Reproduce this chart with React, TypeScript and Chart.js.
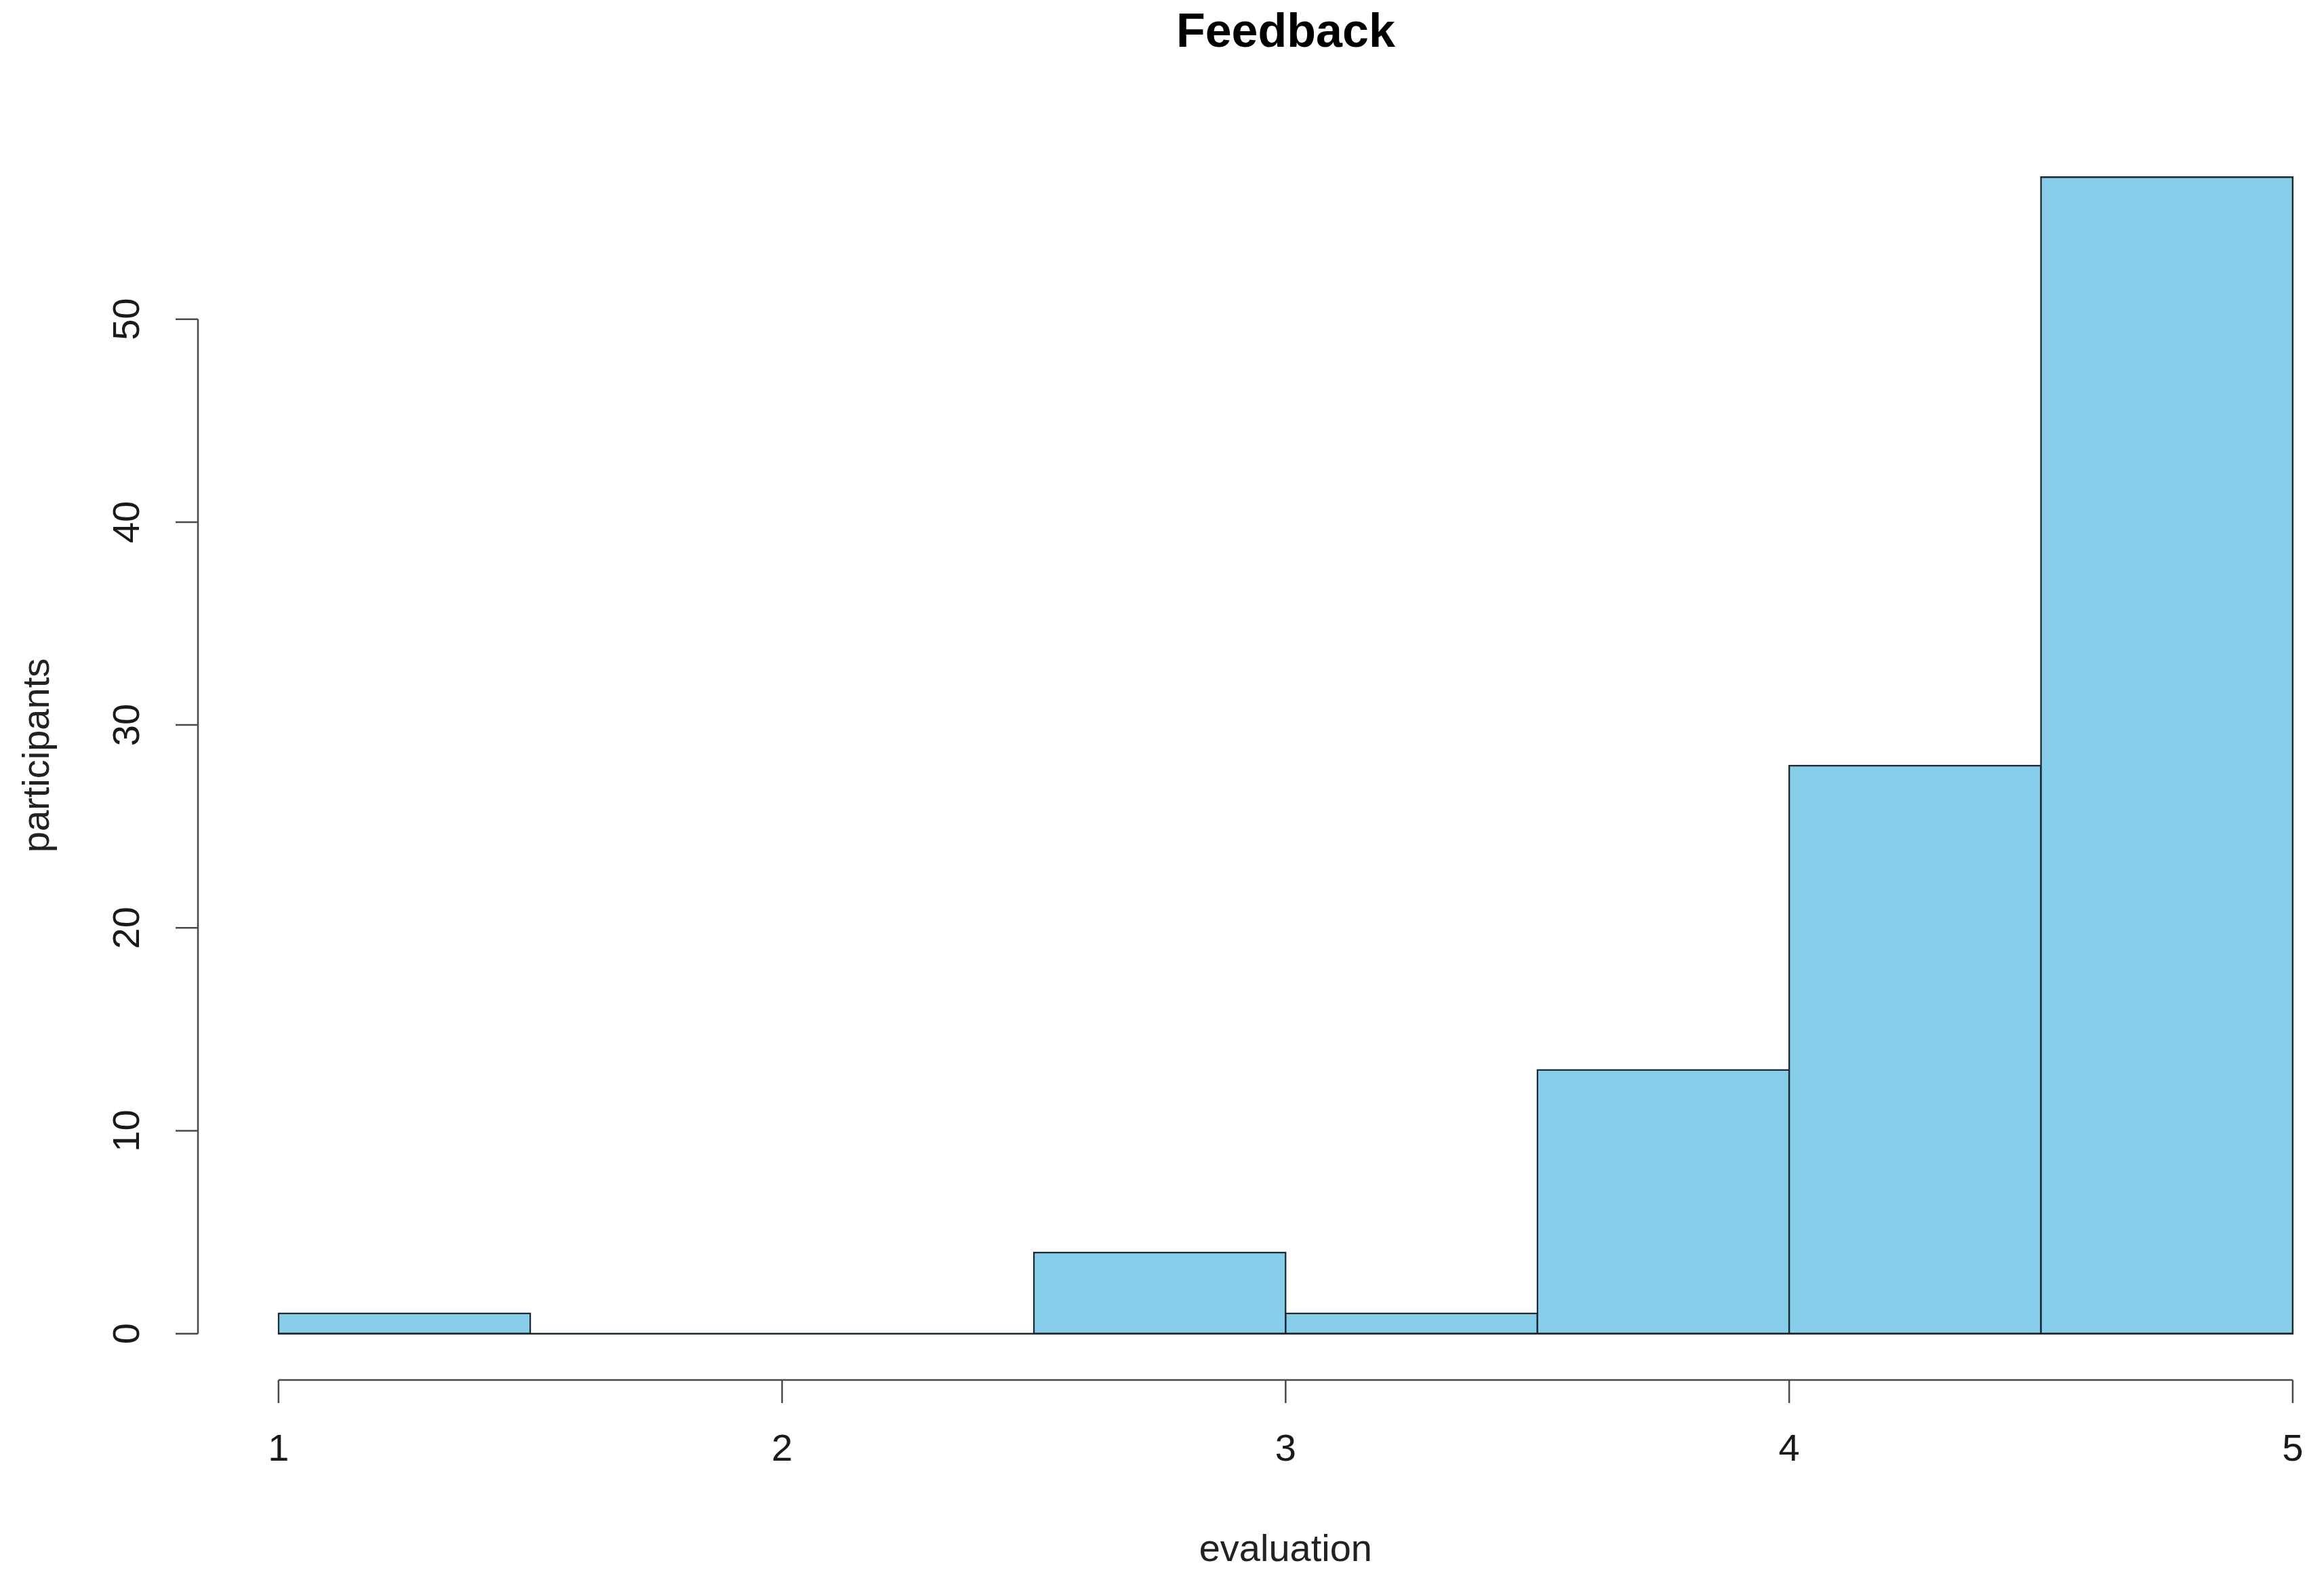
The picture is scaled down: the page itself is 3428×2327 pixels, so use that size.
import React, { useEffect, useRef } from "react";
import { Chart, registerables } from "chart.js";

Chart.register(...registerables);

// ---- data ----
const binStarts = [1, 1.5, 2, 2.5, 3, 3.5, 4, 4.5];
const binWidth = 0.5;
const counts = [1, 0, 0, 4, 1, 13, 28, 57];
const xTicks = [1, 2, 3, 4, 5];
const yTicks = [0, 10, 20, 30, 40, 50];
const titleText = "Feedback";
const xTitle = "evaluation";
const yTitle = "participants";

const W = 3428;
const H = 2327;
const FONT = '"Liberation Sans", Arial, sans-serif';
const BORDER = 2.5;

const rAxesPlugin = {
  id: "rAxes",
  afterDraw(chart: any) {
    const ctx = chart.ctx as CanvasRenderingContext2D;
    const xs = chart.scales.x;
    const ys = chart.scales.y;
    const area = chart.chartArea;
    ctx.save();
    ctx.strokeStyle = "#4a4a4a";
    ctx.lineWidth = 2.5;
    ctx.fillStyle = "#1a1a1a";

    // x axis
    const ay = area.bottom;
    const x0 = xs.getPixelForValue(xTicks[0]);
    const x1 = xs.getPixelForValue(xTicks[xTicks.length - 1]);
    ctx.beginPath();
    ctx.moveTo(x0, ay);
    ctx.lineTo(x1, ay);
    ctx.stroke();
    ctx.font = `56px ${FONT}`;
    ctx.textAlign = "center";
    ctx.textBaseline = "middle";
    xTicks.forEach((v) => {
      const px = xs.getPixelForValue(v);
      ctx.beginPath();
      ctx.moveTo(px, ay);
      ctx.lineTo(px, ay + 34);
      ctx.stroke();
      ctx.fillText(String(v), px, ay + 104);
    });

    // y axis
    const ax = area.left;
    const y0 = ys.getPixelForValue(yTicks[0]);
    const y1 = ys.getPixelForValue(yTicks[yTicks.length - 1]);
    ctx.beginPath();
    ctx.moveTo(ax, y0);
    ctx.lineTo(ax, y1);
    ctx.stroke();
    yTicks.forEach((v) => {
      const py = ys.getPixelForValue(v);
      ctx.beginPath();
      ctx.moveTo(ax, py);
      ctx.lineTo(ax - 33, py);
      ctx.stroke();
      ctx.save();
      ctx.translate(ax - 102, py);
      ctx.rotate(-Math.PI / 2);
      ctx.fillText(String(v), 0, 0);
      ctx.restore();
    });

    const midX = xs.getPixelForValue((xTicks[0] + xTicks[xTicks.length - 1]) / 2);
    const midY = (ys.getPixelForValue(ys.min) + ys.getPixelForValue(ys.max)) / 2;

    // axis titles
    ctx.fillStyle = "#222";
    ctx.fillText(xTitle, midX, ay + 252);
    ctx.save();
    ctx.translate(ax - 235, midY);
    ctx.rotate(-Math.PI / 2);
    ctx.fillText(yTitle, 0, 0);
    ctx.restore();

    // title
    ctx.fillStyle = "#000";
    ctx.font = `bold 70px ${FONT}`;
    ctx.fillText(titleText, midX, 50);
    ctx.restore();
  },
};

export default function App() {
  const ref = useRef<HTMLCanvasElement | null>(null);

  useEffect(() => {
    document.body.style.margin = "0";
    document.body.style.overflow = "hidden";
    const canvas = ref.current;
    if (!canvas) return;
    const barData = binStarts.map((s, i) => ({ x: s + binWidth / 2, y: counts[i] }));
    const baseline = [
      { x: binStarts[0], y: 0 },
      { x: binStarts[binStarts.length - 1] + binWidth, y: 0 },
    ];
    const chart = new Chart(canvas, {
      type: "bar",
      data: {
        datasets: [
          {
            type: "line" as any,
            data: baseline as any,
            borderColor: "#1e2a30",
            borderWidth: BORDER,
            pointRadius: 0,
            order: 0,
          } as any,
          {
            type: "bar",
            data: barData as any,
            backgroundColor: "#87CEEB",
            borderColor: "#1e2a30",
            borderWidth: BORDER,
            borderSkipped: false,
            inflateAmount: BORDER / 2,
            barPercentage: 1,
            categoryPercentage: 1,
            order: 1,
          } as any,
        ],
      },
      options: {
        responsive: false,
        animation: false,
        events: [],
        layout: { padding: { left: 292, right: 9, top: 193, bottom: 292 } },
        plugins: {
          legend: { display: false },
          tooltip: { enabled: false },
          title: { display: false },
        },
        scales: {
          x: {
            type: "linear",
            display: false,
            offset: false,
            min: 0.84,
            max: 5.05,
            afterBuildTicks: (scale: any) => {
              scale.ticks = xTicks.map((v) => ({ value: v }));
            },
          },
          y: {
            type: "linear",
            display: false,
            offset: false,
            min: -2.28,
            max: 59.28,
            afterBuildTicks: (scale: any) => {
              scale.ticks = yTicks.map((v) => ({ value: v }));
            },
          },
        },
      } as any,
      plugins: [rAxesPlugin],
    });
    return () => chart.destroy();
  }, []);

  return (
    <canvas
      ref={ref}
      width={W}
      height={H}
      style={{ display: "block", width: W, height: H, background: "#fff" }}
    />
  );
}
